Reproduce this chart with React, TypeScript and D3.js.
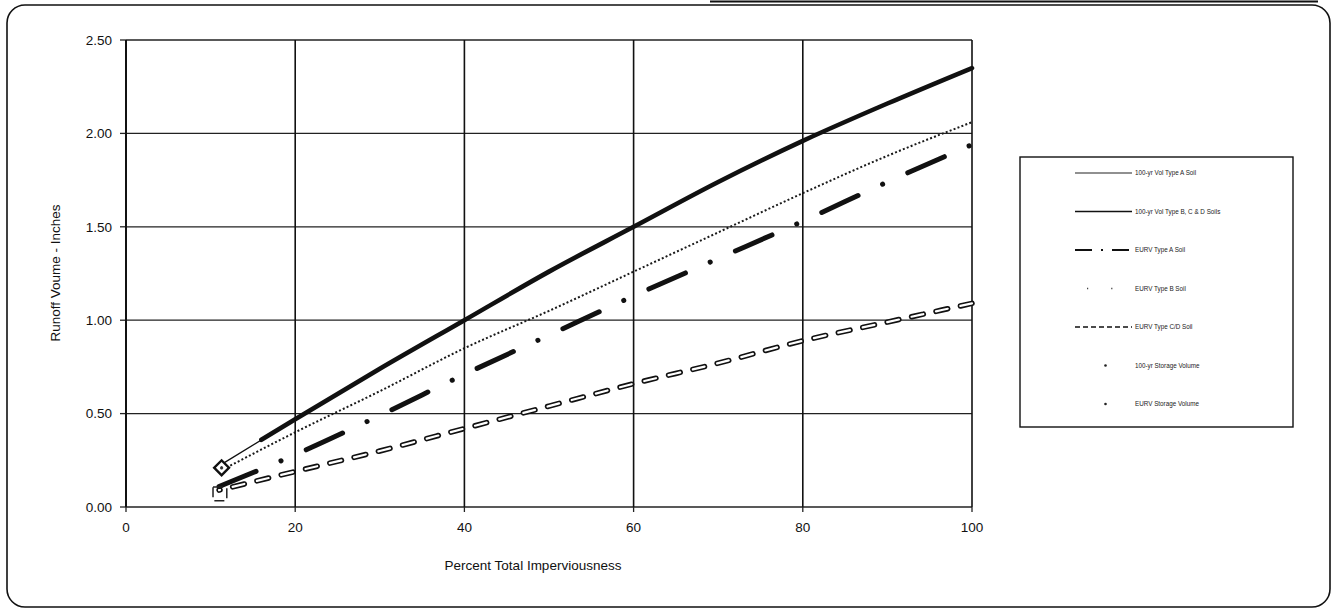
import * as d3 from "d3";

// percent imperviousness / runoff volume (inches)
const vol100TypeA_x = [11, 20, 30, 40, 50, 60, 70, 80, 90, 100];
const vol100TypeA_y = [0.22, 0.47, 0.74, 1.0, 1.26, 1.5, 1.74, 1.96, 2.16, 2.35];

const vol100TypeBCD_x = [16, 20, 30, 40, 50, 60, 70, 80, 90, 100];
const vol100TypeBCD_y = [0.36, 0.47, 0.74, 1.0, 1.26, 1.5, 1.74, 1.96, 2.16, 2.35];

const eurvTypeA_x = [11, 20, 30, 40, 50, 60, 70, 80, 90, 100];
const eurvTypeA_y = [0.11, 0.28, 0.49, 0.71, 0.92, 1.13, 1.33, 1.53, 1.74, 1.94];

const eurvTypeB_x = [11, 20, 30, 40, 50, 60, 70, 80, 90, 100];
const eurvTypeB_y = [0.19, 0.4, 0.62, 0.85, 1.05, 1.26, 1.47, 1.68, 1.88, 2.06];

const eurvTypeCD_x = [11, 20, 30, 40, 50, 60, 70, 80, 90, 100];
const eurvTypeCD_y = [0.09, 0.19, 0.3, 0.42, 0.54, 0.66, 0.77, 0.89, 0.99, 1.09];

const storage100_x = [11.3];
const storage100_y = [0.21];
const storageEurv_x = [11.1];
const storageEurv_y = [0.07];

const xTicks = [0, 20, 40, 60, 80, 100];
const yTicks = [0, 0.5, 1.0, 1.5, 2.0, 2.5];

const legendLabels = [
  "100-yr Vol Type A Soil",
  "100-yr Vol Type B, C & D Soils",
  "EURV Type A Soil",
  "EURV Type B Soil",
  "EURV Type C/D Soil",
  "100-yr Storage Volume",
  "EURV Storage Volume",
];

const W = 1332;
const H = 612;
const FONT = "'Liberation Sans', Arial, sans-serif";

export default function App() {
  const x = d3.scaleLinear().domain([0, 100]).range([126, 972]);
  const y = d3.scaleLinear().domain([0, 2.5]).range([507, 40]);

  const line = d3
    .line<[number, number]>()
    .x((d) => x(d[0]))
    .y((d) => y(d[1]))
    .curve(d3.curveMonotoneX);

  const pts = (xs: number[], ys: number[]) => xs.map((v, i) => [v, ys[i]] as [number, number]);

  const legendY = d3.scaleLinear().domain([0, 6]).range([173, 404]);
  const lx0 = 1075;
  const lx1 = 1132;

  const diamond = d3.symbol().type(d3.symbolSquare).size(110)();
  const square = d3.symbol().type(d3.symbolSquare).size(190)();

  return (
    <div style={{ position: "fixed", left: 0, top: 0, width: W, height: H, background: "#fff" }}>
      <svg width={W} height={H} style={{ display: "block" }} fontFamily={FONT}>
        <rect width={W} height={H} fill="#fff" />
        {/* scanned frame */}
        <rect x={7} y={5} width={1323} height={602} rx={18} ry={18} fill="none" stroke="#111" strokeWidth={1.6} />
        <line x1={710} x2={1318} y1={1.5} y2={1.5} stroke="#111" strokeWidth={2} />

        {/* grid */}
        {yTicks.map((t) => (
          <g key={"gy" + t}>
            <line x1={x(0)} x2={x(100)} y1={y(t)} y2={y(t)} stroke="#222" strokeWidth={1.3} />
            <line x1={x(0) - 6} x2={x(0)} y1={y(t)} y2={y(t)} stroke="#222" strokeWidth={1.3} />
            <text x={112} y={y(t)} dy="0.35em" textAnchor="end" fontSize={13.5} fill="#111">
              {d3.format(".2f")(t)}
            </text>
          </g>
        ))}
        {xTicks.map((t) => (
          <g key={"gx" + t}>
            <line x1={x(t)} x2={x(t)} y1={y(2.5)} y2={y(0)} stroke="#111" strokeWidth={t === 0 ? 2 : 1.6} />
            <line x1={x(t)} x2={x(t)} y1={y(0)} y2={y(0) + 5} stroke="#222" strokeWidth={1.3} />
            <text x={x(t)} y={527} dy="0.35em" textAnchor="middle" fontSize={13.5} fill="#111">
              {t}
            </text>
          </g>
        ))}

        <text
          transform={`translate(55,273) rotate(-90)`}
          textAnchor="middle"
          dy="0.35em"
          fontSize={13.5}
          fill="#111"
        >
          Runoff Voume - Inches
        </text>
        <text x={533} y={565} dy="0.35em" textAnchor="middle" fontSize={13.5} fill="#111">
          Percent Total Imperviousness
        </text>

        {/* EURV C/D: hollow dashes */}
        <path d={line(pts(eurvTypeCD_x, eurvTypeCD_y))!} fill="none" stroke="#111" strokeWidth={5.5}
          strokeDasharray="12 13" strokeDashoffset={-14} strokeLinecap="round" />
        <path d={line(pts(eurvTypeCD_x, eurvTypeCD_y))!} fill="none" stroke="#fff" strokeWidth={2.2}
          strokeDasharray="12 13" strokeDashoffset={-14} strokeLinecap="round" />

        {/* EURV Type A: dash-dot */}
        <path d={line(pts(eurvTypeA_x, eurvTypeA_y))!} fill="none" stroke="#111" strokeWidth={5}
          strokeDasharray="40 27 0.1 27.5" strokeLinecap="round" />

        {/* EURV Type B: dotted */}
        <path d={line(pts(eurvTypeB_x, eurvTypeB_y))!} fill="none" stroke="#1a1a1a" strokeWidth={2}
          strokeDasharray="2 2.2" />

        {/* 100-yr volumes */}
        <path d={line(pts(vol100TypeA_x, vol100TypeA_y))!} fill="none" stroke="#111" strokeWidth={1.4} />
        <path d={line(pts(vol100TypeBCD_x, vol100TypeBCD_y))!} fill="none" stroke="#111" strokeWidth={4.6}
          strokeLinecap="round" />

        {/* storage volumes */}
        {storage100_x.map((v, i) => (
          <g key={"s100" + i} transform={`translate(${x(v)},${y(storage100_y[i])}) rotate(45)`}>
            <path d={diamond!} fill="#fff" stroke="#111" strokeWidth={2.4} />
            <circle r={1.6} fill="#333" />
          </g>
        ))}
        {storageEurv_x.map((v, i) => (
          <path key={"seu" + i} d={square!} transform={`translate(${x(v)},${y(storageEurv_y[i])})`}
            fill="none" stroke="#222" strokeWidth={1.5} strokeDasharray="10 5" />
        ))}

        {/* legend */}
        <rect x={1020} y={157} width={273} height={270} fill="#fff" stroke="#111" strokeWidth={1.4} />
        {legendLabels.map((lab, i) => {
          const ly = legendY(i);
          let sample = null;
          if (i === 0) sample = <line x1={lx0} x2={lx1} y1={ly} y2={ly} stroke="#222" strokeWidth={1.1} />;
          if (i === 1) sample = <line x1={lx0} x2={lx1} y1={ly} y2={ly} stroke="#111" strokeWidth={1.6} />;
          if (i === 2)
            sample = (
              <line x1={lx0} x2={lx1} y1={ly} y2={ly} stroke="#111" strokeWidth={1.8} strokeDasharray="17 9 2 9" />
            );
          if (i === 3)
            sample = (
              <line x1={lx0 + 12} x2={lx1} y1={ly} y2={ly} stroke="#444" strokeWidth={1.4} strokeDasharray="1.2 23" />
            );
          if (i === 4)
            sample = <line x1={lx0} x2={lx1} y1={ly} y2={ly} stroke="#111" strokeWidth={1.3} strokeDasharray="5 3" />;
          if (i >= 5) sample = <circle cx={(lx0 + lx1) / 2 + 2} cy={ly} r={1.3} fill="#222" />;
          return (
            <g key={lab}>
              {sample}
              <text x={1135} y={ly} dy="0.35em" fontSize={6.3} fill="#222">
                {lab}
              </text>
            </g>
          );
        })}
      </svg>
    </div>
  );
}
